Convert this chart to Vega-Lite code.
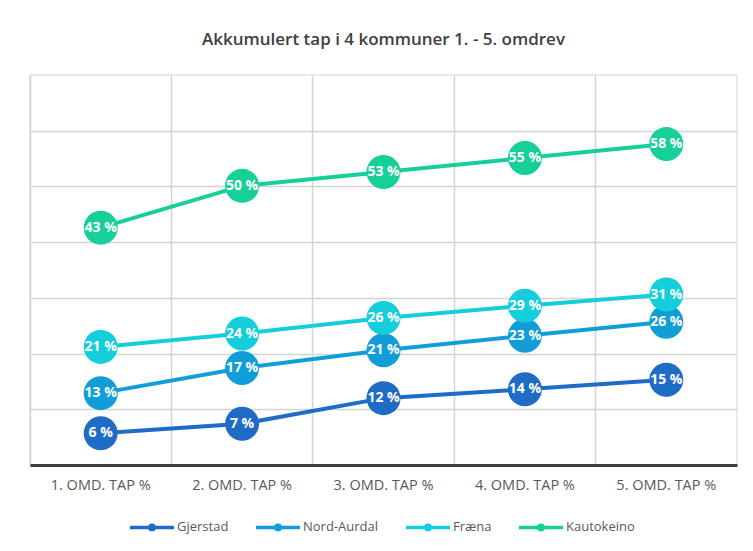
{
  "$schema": "https://vega.github.io/schema/vega-lite/v6.json",
  "width": 707,
  "height": 390,
  "autosize": "none",
  "padding": {"left": 30, "top": 75, "right": 16, "bottom": 86},
  "background": "white",
  "title": {
    "text": "Akkumulert tap i 4 kommuner 1. - 5. omdrev",
    "font": "Open Sans",
    "fontSize": 17,
    "fontWeight": 600,
    "color": "#404040",
    "offset": 26,
    "anchor": "middle"
  },
  "config": {
    "view": {"stroke": "#e3e3e3", "strokeWidth": 1.5},
    "font": "Open Sans"
  },
  "data": {
    "values": [
      {"s": "Gjerstad", "o": "1. OMD. TAP %", "v": 5.7},
      {"s": "Gjerstad", "o": "2. OMD. TAP %", "v": 7.4},
      {"s": "Gjerstad", "o": "3. OMD. TAP %", "v": 12.0},
      {"s": "Gjerstad", "o": "4. OMD. TAP %", "v": 13.6},
      {"s": "Gjerstad", "o": "5. OMD. TAP %", "v": 15.3},
      {"s": "Nord-Aurdal", "o": "1. OMD. TAP %", "v": 12.9},
      {"s": "Nord-Aurdal", "o": "2. OMD. TAP %", "v": 17.4},
      {"s": "Nord-Aurdal", "o": "3. OMD. TAP %", "v": 20.6},
      {"s": "Nord-Aurdal", "o": "4. OMD. TAP %", "v": 23.2},
      {"s": "Nord-Aurdal", "o": "5. OMD. TAP %", "v": 25.7},
      {"s": "Fræna", "o": "1. OMD. TAP %", "v": 21.2},
      {"s": "Fræna", "o": "2. OMD. TAP %", "v": 23.6},
      {"s": "Fræna", "o": "3. OMD. TAP %", "v": 26.4},
      {"s": "Fræna", "o": "4. OMD. TAP %", "v": 28.6},
      {"s": "Fræna", "o": "5. OMD. TAP %", "v": 30.6},
      {"s": "Kautokeino", "o": "1. OMD. TAP %", "v": 42.6},
      {"s": "Kautokeino", "o": "2. OMD. TAP %", "v": 50.1},
      {"s": "Kautokeino", "o": "3. OMD. TAP %", "v": 52.6},
      {"s": "Kautokeino", "o": "4. OMD. TAP %", "v": 55.1},
      {"s": "Kautokeino", "o": "5. OMD. TAP %", "v": 57.6}
    ]
  },
  "transform": [
    {"calculate": "format(datum.v, '.0f') + ' %'", "as": "label"}
  ],
  "layer": [
    {
      "mark": {"type": "line", "strokeWidth": 4},
      "encoding": {
        "x": {
          "field": "o", "type": "nominal",
          "scale": {"type": "band", "paddingInner": 0, "paddingOuter": 0},
          "axis": {
            "orient": "bottom", "title": null, "labelAngle": 0,
            "labelFont": "Open Sans", "labelFontSize": 14.5, "labelColor": "#595959",
            "labelPadding": 13, "ticks": false, "grid": false,
            "domainColor": "#404040", "domainWidth": 3
          }
        },
        "y": {
          "field": "v", "type": "quantitative",
          "scale": {"domain": [0, 70]},
          "axis": {
            "title": null, "labels": false, "ticks": false, "domain": false,
            "grid": true, "gridColor": "#d4d4d4", "gridWidth": 1.5,
            "values": [10, 20, 30, 40, 50, 60]
          }
        },
        "color": {
          "field": "s", "type": "nominal",
          "scale": {
            "domain": ["Gjerstad", "Nord-Aurdal", "Fræna", "Kautokeino"],
            "range": ["#1f6cc6", "#119ed8", "#14cedb", "#17cf98"]
          },
          "legend": {
            "title": null, "orient": "none", "direction": "horizontal",
            "legendX": 98, "legendY": 428,
            "labelFont": "Open Sans", "labelFontSize": 13, "labelColor": "#595959",
            "symbolType": "M-1,0L1,0M0.1,0A0.1,0.1 0 1 1 -0.1,0A0.1,0.1 0 1 1 0.1,0",
            "symbolSize": 1936, "symbolStrokeWidth": 3.5,
            "labelOffset": 1, "columnPadding": 20
          }
        }
      }
    },
    {
      "mark": {"type": "point", "filled": true, "shape": "circle", "size": 1156, "opacity": 1},
      "encoding": {
        "x": {
          "field": "o", "type": "nominal",
          "axis": {
            "orient": "top", "title": null, "labels": false, "ticks": false,
            "domain": false, "grid": true, "bandPosition": 0,
            "gridColor": "#d4d4d4", "gridWidth": 1.5
          }
        },
        "y": {"field": "v", "type": "quantitative"},
        "color": {"field": "s", "type": "nominal"}
      }
    },
    {
      "mark": {"type": "text", "color": "white", "font": "Open Sans", "fontWeight": "bold", "fontSize": 14},
      "encoding": {
        "x": {"field": "o", "type": "nominal", "axis": null},
        "y": {"field": "v", "type": "quantitative"},
        "text": {"field": "label"}
      }
    }
  ],
  "resolve": {"axis": {"x": "independent"}}
}
